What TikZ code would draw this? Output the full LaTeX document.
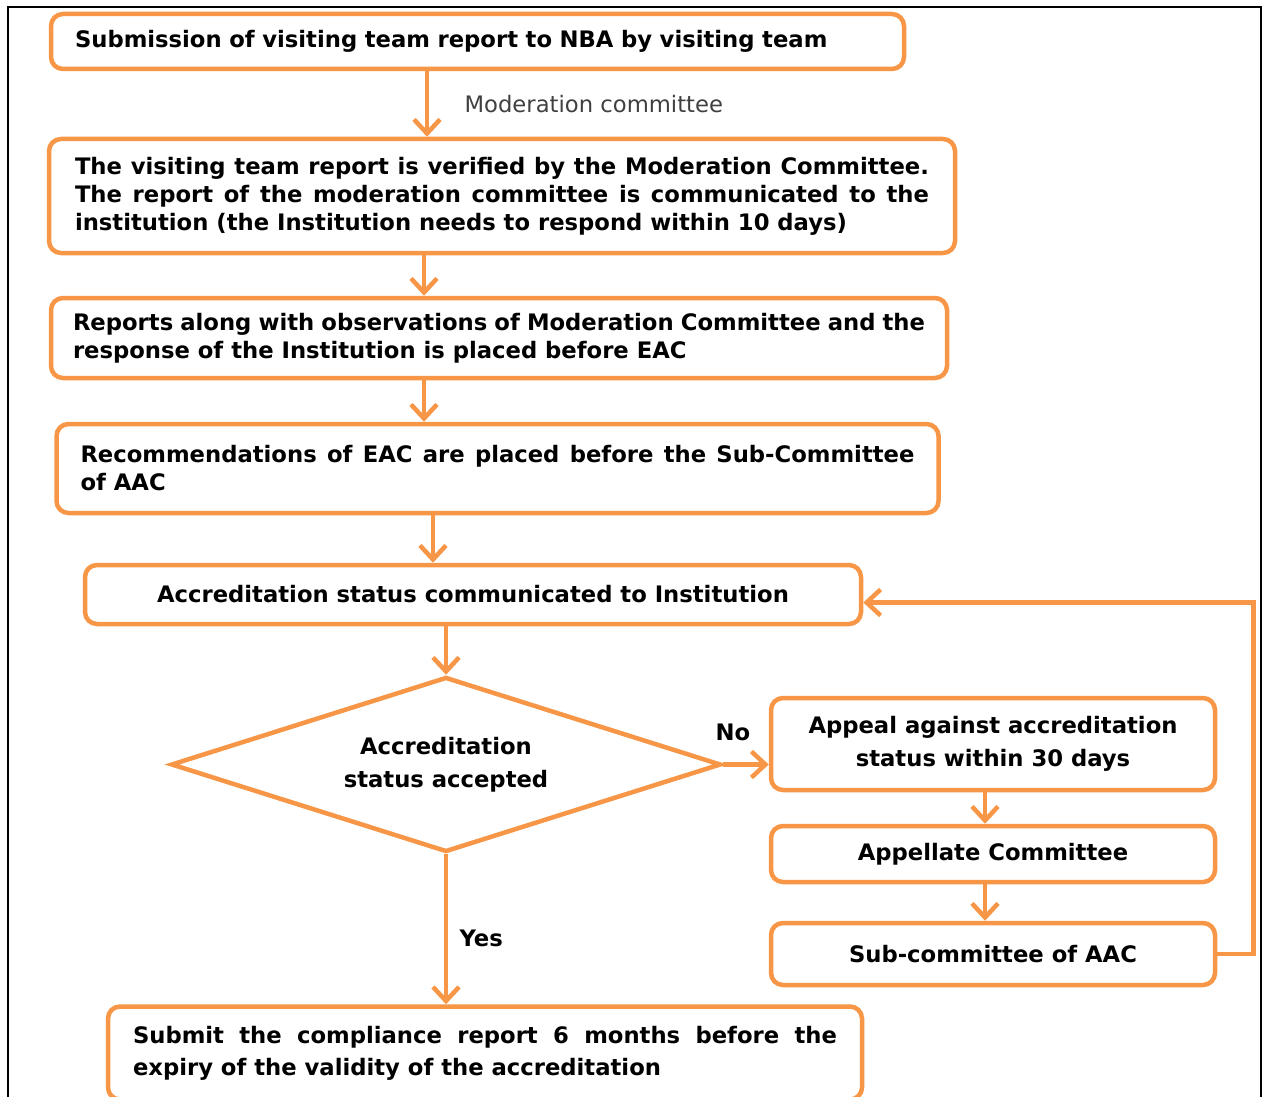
\documentclass[tikz,border=0pt]{standalone}
\usepackage{fontspec}
\setmainfont{DejaVu Sans}
\usetikzlibrary{shapes.geometric,arrows.meta}
\definecolor{flow}{RGB}{247,150,70}
\definecolor{note}{RGB}{64,64,64}

\begin{document}
\begin{tikzpicture}[x=1pt, y=-1pt,
  box/.style={draw=flow, line width=4.5pt, rounded corners=12pt, inner xsep=24pt,
              inner ysep=0pt, align=justify, font=\fontsize{22.7}{28}\selectfont\bfseries},
  cbox/.style={box, align=center, inner xsep=0pt, minimum width=444pt,
               font=\fontsize{22.7}{33}\selectfont\bfseries},
  decision/.style={draw=flow, line width=4.5pt, diamond, aspect=3.14, inner sep=0pt,
                   align=center, font=\fontsize{22.7}{33}\selectfont\bfseries},
  flowarrow/.style={draw=flow, line width=4.5pt, -{Straight Barb[length=14pt,width=26pt]}},
  lbl/.style={font=\fontsize{22.7}{28}\selectfont\bfseries}]
  \clip (0,0) rectangle (1264,1097);
  \draw[line width=1.5pt] (8,7) rectangle (1261,1130);

  \node (submit)    [box, align=left, text width=805pt, minimum height=55pt] at (477.5,41.5)
                    {Submission of visiting team report to NBA by visiting team};
  \node (verify)    [box, text width=854pt, inner xsep=26pt, minimum height=114pt] at (502,196)
                    {The visiting team report is verified by the Moderation Committee.\linebreak
                     The report of the moderation committee is communicated to the\linebreak
                     institution (the Institution needs to respond within 10 days)};
  \node (eac)       [box, text width=852pt, inner xsep=22pt, minimum height=80pt] at (499,338)
                    {Reports along with observations of Moderation Committee and the\linebreak
                     response of the Institution is placed before EAC};
  \node (subc)      [box, text width=834pt, minimum height=89pt] at (497.5,468.5)
                    {Recommendations of EAC are placed before the Sub-Committee\linebreak
                     of AAC};
  \node (status)    [cbox, minimum width=776pt, minimum height=59pt] at (473,594.5)
                    {Accreditation status communicated to Institution};
  \node (accept)    [decision, minimum width=550pt, minimum height=175pt] at (446,764.5)
                    {Accreditation\\status accepted};
  \node (appeal)    [cbox, minimum height=92pt] at (993,744)
                    {Appeal against accreditation\\status within 30 days};
  \node (appellate) [cbox, minimum height=56pt] at (993,854) {Appellate Committee};
  \node (aacsub)    [cbox, minimum height=62pt] at (993,954) {Sub-committee of AAC};
  \node (comply)    [box, text width=704pt, inner xsep=25pt, minimum height=93pt,
                    font=\fontsize{22.7}{32}\selectfont\bfseries] at (485,1053)
                    {Submit the compliance report 6 months before the\linebreak
                     expiry of the validity of the accreditation};

  \draw[flowarrow] ([xshift=-50.5pt]submit.south) -- ([xshift=-75pt]verify.north)
    node (modlabel) [midway, anchor=west, xshift=32pt, text=note,
                     font=\fontsize{22.7}{28}\selectfont] {Moderation committee};
  \draw[flowarrow] ([xshift=-78pt]verify.south) -- ([xshift=-75pt]eac.north);
  \draw[flowarrow] ([xshift=-75pt]eac.south) -- ([xshift=-73.5pt]subc.north);
  \draw[flowarrow] ([xshift=-64.5pt]subc.south) -- ([xshift=-40pt]status.north);
  \draw[flowarrow] ([xshift=-27pt]status.south) -- (accept.north);
  \draw[flowarrow] (accept.east) -- ([yshift=-20.5pt]appeal.west)
    node (nolabel) [lbl, midway, above, yshift=18pt, xshift=-13pt] {No};
  \draw[flowarrow] ([xshift=-8pt]appeal.south) -- ([xshift=-8pt]appellate.north);
  \draw[flowarrow] ([xshift=-8pt]appellate.south) -- ([xshift=-8pt]aacsub.north);
  \draw[flowarrow] (accept.south) -- ([xshift=-39pt]comply.north)
    node (yeslabel) [lbl, pos=0.56, right, xshift=8pt] {Yes};
  \draw[flowarrow] (aacsub.east) -- ++(36,0) |- ([yshift=-8pt]status.east);
\end{tikzpicture}
\end{document}
